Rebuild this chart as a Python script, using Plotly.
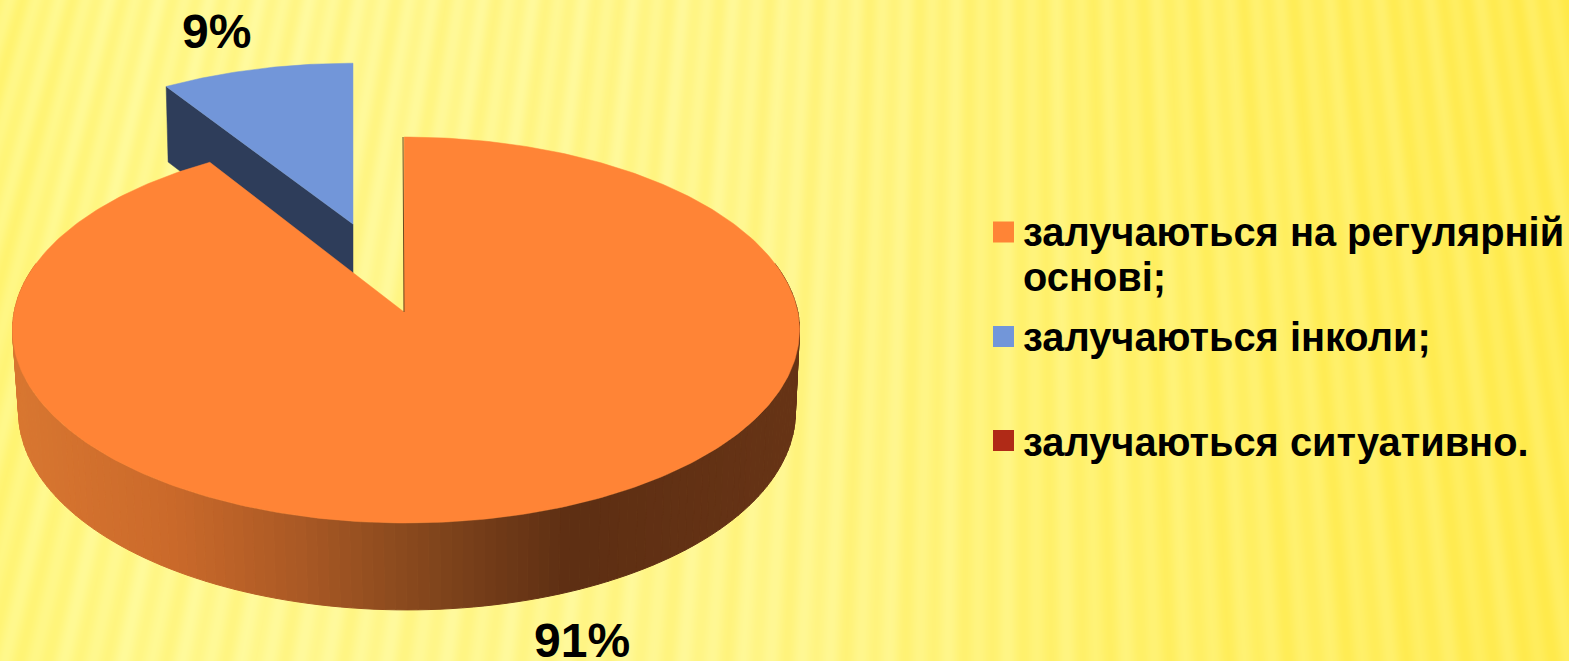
import base64, zlib, struct
import numpy as np
import plotly.graph_objects as go

categories = ["залучаються на регулярній<br>основі;", "залучаються інколи;", "залучаються ситуативно."]
values = [91, 9, 0]
colors = ["#FF8436", "#7296D9", "#B02A17"]
value_labels = ["91%", "9%"]
W, H = 1569, 661
FONT = "Liberation Sans"

# ---- perspective projection of the pie's circular disc onto the page
CX, K, BX = 404.0, 0.0933, 391.8
TOP_Y0, TOP_A = 312.0, 191.3
BOT_Y0, BOT_A = 393.4, 196.3
BOT_XS = 0.987


def proj(X, Y, bottom=False, lean=0.0, skew=0.0):
    d = 1 + K * Y
    v = Y / d
    if bottom:
        x = CX + 1 + BOT_XS * BX * X / d
        y = BOT_Y0 - BOT_A * v
    else:
        x = CX + BX * X / d
        y = TOP_Y0 - TOP_A * v
    x = x + skew * np.clip(1 - v, 0, 1)
    return x + lean * (1.3 - 4.3 * (224 - y) / 161), y


def lerp_color(x, stops):
    xs = [s[0] for s in stops]
    return "rgb(%d,%d,%d)" % tuple(int(np.interp(x, xs, [s[1][i] for s in stops])) for i in range(3))


WALL_STOPS = [(12, (217, 119, 49)), (170, (203, 106, 43)), (300, (170, 89, 37)),
              (405, (138, 74, 30)), (500, (112, 58, 24)), (570, (94, 47, 19)), (800, (103, 52, 22))]

total = sum(values)
orange_end = 2 * np.pi * values[0] / total
blue_mid = orange_end + np.pi * values[1] / total
EXPLODE = 0.5
ex, ey = EXPLODE * np.sin(blue_mid), EXPLODE * np.cos(blue_mid)

fig = go.Figure()


def poly(xs, ys, color, lw=0.0):
    fig.add_trace(go.Scatter(x=list(xs), y=list(ys), mode="lines", fill="toself", fillcolor=color,
                             line=dict(color=color, width=lw), hoverinfo="skip", showlegend=False))


# blue slice: cut face, then top
th = np.linspace(orange_end, 2 * np.pi, 60)
bx, by = ex + np.sin(th), ey + np.cos(th)
ax_t, ay_t = proj(ex, ey, lean=1)
_, ay_b = proj(ex, ey, bottom=True)
lx_t, ly_t = proj(bx[0], by[0], lean=1)
_, ly_b = proj(bx[0], by[0], bottom=True)
ax_b, lx_b = ax_t, lx_t + 2
poly([lx_t, ax_t, ax_b, lx_b, lx_t], [ly_t, ay_t, ay_b, ly_b, ly_t], "#2E3D5A", 0.5)
tx, ty = proj(bx, by, lean=1)
poly(np.r_[ax_t, tx, ax_t], np.r_[ay_t, ty, ay_t], colors[1], 0.5)

# orange slice: shaded rim, one strip per small arc step
SK = 2.0
edges = np.linspace(np.radians(75), np.radians(285), 141)
for a, b in zip(edges[:-1], edges[1:]):
    xa, ya = proj(np.sin(a), np.cos(a), skew=SK)
    xb, yb = proj(np.sin(b), np.cos(b), skew=SK)
    xc, yc = proj(np.sin(b), np.cos(b), bottom=True, skew=SK)
    xd, yd = proj(np.sin(a), np.cos(a), bottom=True, skew=SK)
    poly([xa, xb, xc, xd, xa], [ya, yb, yc, yd, ya], lerp_color((xa + xb) / 2, WALL_STOPS), 1)

# orange top surface
th = np.linspace(0, orange_end, 361)
ox, oy = proj(np.sin(th), np.cos(th), skew=SK)
poly(np.r_[CX, ox, CX], np.r_[TOP_Y0, oy, TOP_Y0], colors[0], 0.5)
# the nearly edge-on cut face at twelve o'clock
ex0, ey0 = proj(0, 1)
fig.add_trace(go.Scatter(x=[CX, ex0 - 1], y=[TOP_Y0, ey0], mode="lines", hoverinfo="skip", showlegend=False,
                         line=dict(color="#6B4A20", width=1)))

# legend
LEG_Y = [232, 336.5, 440.5]
for name, col, y in zip(categories, colors, LEG_Y):
    fig.add_trace(go.Scatter(x=[1003.5], y=[y], mode="markers", name=name.replace("<br>", " "), hoverinfo="skip",
                             showlegend=False, marker=dict(symbol="square", size=21, color=col, line=dict(width=0))))

line1, line2 = categories[0].split("<br>")
annotations = []
for txt, y in [(line1, 232), (line2, 277), (categories[1], 337), (categories[2], 442)]:
    annotations.append(dict(x=1021, y=y, text="<b>" + txt + "</b>", xref="x", yref="y", showarrow=False,
                            xanchor="left", yanchor="middle", align="left",
                            font=dict(family=FONT, size=39.8, color="#000000")))
for txt, x, y in [(value_labels[1], 216, 31), (value_labels[0], 582, 640)]:
    annotations.append(dict(x=x, y=y, text="<b>" + txt + "</b>", xref="x", yref="y", showarrow=False,
                            xanchor="center", yanchor="middle", font=dict(family=FONT, size=48, color="#000000")))


# ---- striped page background, rendered to a PNG
def background():
    h, w = H, W
    yy, xx = np.mgrid[0:h, 0:w].astype(float)
    stops = [0, 120, 300, 800, 1100, 1569]
    r = np.full_like(xx, 255)
    g = np.interp(xx, stops, [246, 248, 248, 246, 242, 236])
    b = np.interp(xx, stops, [125, 140, 146, 138, 112, 85])
    u = (xx - 1000) / (yy + 3600)
    s = np.sin(2 * np.pi * u / (27 / 3900))
    s2 = np.sin(2 * np.pi * u / (27 / 3900) * 0.47 + 1)
    st = 0.7 * s + 0.3 * s2
    g = g + 2.5 * st
    b = b + 14 * st
    img = np.clip(np.dstack([r, g, b]), 0, 255).astype(np.uint8)
    raw = b"".join(b"\x00" + img[i].tobytes() for i in range(h))

    def chunk(tag, data):
        c = struct.pack(">I", len(data)) + tag + data
        return c + struct.pack(">I", zlib.crc32(tag + data) & 0xffffffff)
    png = b"\x89PNG\r\n\x1a\n" + chunk(b"IHDR", struct.pack(">IIBBBBB", w, h, 8, 2, 0, 0, 0)) \
        + chunk(b"IDAT", zlib.compress(raw, 9)) + chunk(b"IEND", b"")
    return "data:image/png;base64," + base64.b64encode(png).decode()


fig.update_layout(
    width=W, height=H, margin=dict(l=0, r=0, t=0, b=0), autosize=False,
    paper_bgcolor="#FFF68A", plot_bgcolor="rgba(0,0,0,0)", showlegend=False,
    xaxis=dict(range=[0, W], visible=False, fixedrange=True),
    yaxis=dict(range=[H, 0], visible=False, fixedrange=True),
    annotations=annotations,
    images=[dict(source=background(), xref="paper", yref="paper", x=0, y=1, sizex=1, sizey=1,
                 xanchor="left", yanchor="top", sizing="stretch", layer="below")],
)
fig.write_html("out.html", config=dict(displayModeBar=False),
               post_script="document.body.style.margin='0';document.body.style.overflow='hidden';")
